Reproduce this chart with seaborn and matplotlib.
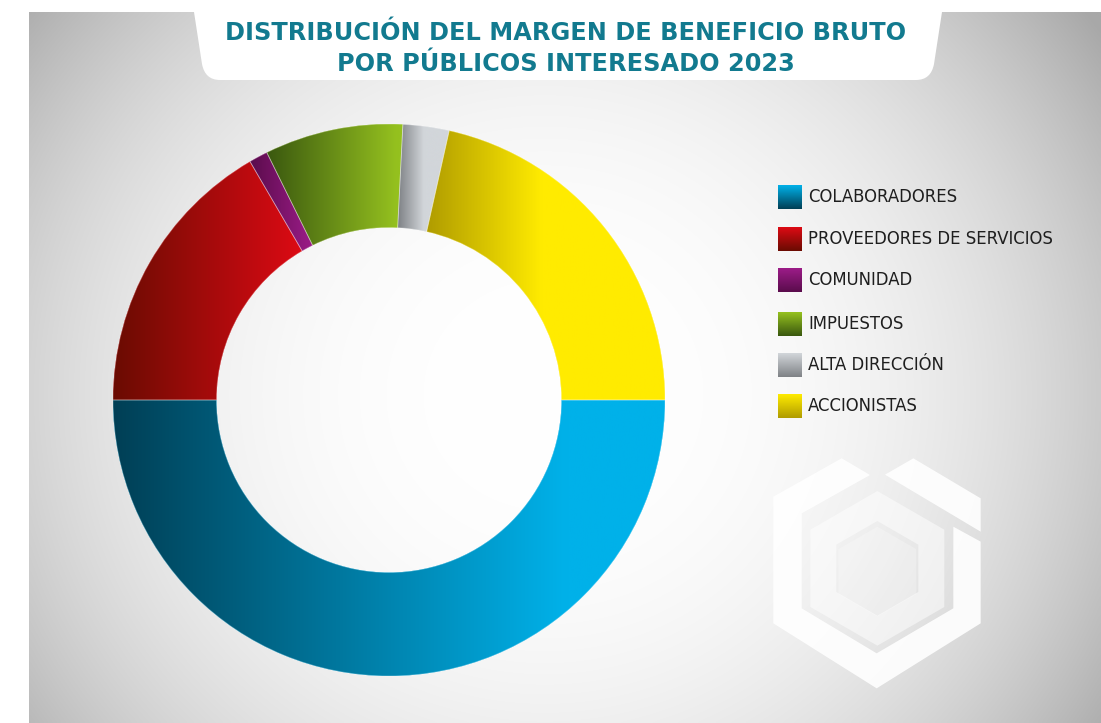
import numpy as np
import pandas as pd
import matplotlib
matplotlib.use("Agg")
import matplotlib.pyplot as plt
import seaborn as sns
from matplotlib.colors import LinearSegmentedColormap
from matplotlib.patches import Polygon, PathPatch, Wedge
from matplotlib.path import Path

# ---------------- data ----------------
categories = ["COLABORADORES", "PROVEEDORES DE SERVICIOS", "COMUNIDAD",
              "IMPUESTOS", "ALTA DIRECCIÓN", "ACCIONISTAS"]
shares = [50.0, 16.6, 1.1, 8.1, 2.7, 21.5]
bright_colors = ["#00b1e9", "#dd0a14", "#9c1c88", "#95c11f", "#d2d6da", "#ffeb00"]
dark_colors = ["#003f55", "#6a0c02", "#5a0c4c", "#3a580f", "#7f8286", "#b09c00"]
grad_reach = [0.82, 1.0, 1.0, 0.95, 0.5, 0.48]
title_lines = ["DISTRIBUCIÓN DEL MARGEN DE BENEFICIO BRUTO",
               "POR PÚBLICOS INTERESADO 2023"]

df = pd.DataFrame({"category": categories, "share": shares,
                   "bright": bright_colors, "dark": dark_colors, "reach": grad_reach})

sns.set_theme(style="white")
plt.rcParams["font.family"] = ["DejaVu Sans"]

W, H = 1101, 723
fig = plt.figure(figsize=(W / 100, H / 100), dpi=100)
ax = fig.add_axes([0, 0, 1, 1])


def Y(y):
    return H - y

# ---------------- background panel ----------------
px0, py0 = 29, 12
xs = np.linspace(px0, W, 400)
ys = np.linspace(py0, H, 300)
XX, YY = np.meshgrid(xs, ys)
r = np.sqrt((XX - 545) ** 2 + ((YY - 395) / 0.95) ** 2)
val = 255 - 78 * np.clip(r / 650, 0, 1.2) ** 2.6
val = np.clip(val, 168, 255) / 255.0
bg = np.dstack([val, val, val])
ax.imshow(bg, extent=(px0, W, Y(H), Y(py0)), origin="upper", aspect="auto",
          interpolation="bicubic", zorder=0)

# ---------------- watermark ----------------
def zc(pts):
    return [(760 + x / 3.0, Y(450 + y / 3.0)) for x, y in pts]

wm_outer = [(245, 25), (40, 140), (40, 520), (350, 715), (662, 520), (662, 275),
            (580, 230), (580, 475), (350, 610), (125, 475), (125, 190), (330, 75)]
wm_topright = [(460, 25), (662, 145), (662, 245), (375, 74)]
# middle ring (outer hex minus inner hex)
mcx, mcy = 352, 355
def hexpts(R, cx, cy):
    return [(cx + R * np.cos(np.radians(a)), cy - R * np.sin(np.radians(a)))
            for a in (90, 150, 210, 270, 330, 30)]
ring_out = hexpts(232, mcx, mcy)
ring_in = hexpts(142, mcx, mcy)
ring_path = Path(zc(ring_out + [ring_out[0]]) + zc(ring_in[::-1] + [ring_in[-1]]),
                 [Path.MOVETO] + [Path.LINETO] * 5 + [Path.CLOSEPOLY] +
                 [Path.MOVETO] + [Path.LINETO] * 5 + [Path.CLOSEPOLY])
ax.add_patch(Polygon(zc(wm_outer), closed=True, facecolor="white", edgecolor="none",
                     alpha=0.9, zorder=1))
ax.add_patch(Polygon(zc(wm_topright), closed=True, facecolor="white", edgecolor="none",
                     alpha=0.9, zorder=1))
ax.add_patch(PathPatch(ring_path, facecolor="white", edgecolor="none", alpha=0.5, zorder=1))
ax.add_patch(Polygon(zc(hexpts(135, mcx, mcy + 10)), closed=True, facecolor="white",
                     edgecolor="none", alpha=0.25, zorder=1))

# ---------------- title box ----------------
verts = [(193, 0), (194, 12), (202, 64), (205, 80), (220, 80), (916, 80),
         (931, 80), (934, 64), (942, 12), (943, 0), (193, 0)]
codes = [Path.MOVETO, Path.LINETO, Path.LINETO, Path.CURVE3, Path.CURVE3,
         Path.LINETO, Path.CURVE3, Path.CURVE3, Path.LINETO, Path.LINETO, Path.CLOSEPOLY]
verts = [(x, Y(y)) for x, y in verts]
ax.add_patch(PathPatch(Path(verts, codes), facecolor="white", edgecolor="none", zorder=2))
for i, line in enumerate(title_lines):
    ax.text(566, Y(40 + 31 * i), line, ha="center", va="baseline",
            fontsize=17.3, fontweight="bold", color="#127a8f", zorder=3)

# ---------------- donut ----------------
cx, cy, R = 389, 400, 276
wedges, _ = ax.pie(df["share"], colors=df["bright"], startangle=0, counterclock=False,
                   radius=R, center=(cx, Y(cy)), frame=True,
                   wedgeprops=dict(width=R * 0.375, edgecolor="none", linewidth=0))

for w, (_, row) in zip(wedges, df.iterrows()):
    w.set_zorder(4)
    ext = w.get_path().get_extents()
    cmap = LinearSegmentedColormap.from_list(
        "g", [(0, row["dark"]), (row["reach"], row["bright"]), (1, row["bright"])])
    grad = np.linspace(0, 1, 256)[None, :]
    im = ax.imshow(grad, extent=(ext.x0, ext.x1, ext.y0, ext.y1), cmap=cmap,
                   aspect="auto", interpolation="bicubic", zorder=5, origin="lower")
    im.set_clip_path(w)

for w in wedges:
    ax.add_patch(Wedge(w.center, w.r, w.theta1, w.theta2, width=w.width,
                       facecolor="none", edgecolor=(1, 1, 1, 0.35),
                       linewidth=0.6, zorder=6))

# ---------------- legend ----------------
row_y = [197, 239, 280, 324, 365, 406]
sq = 24
for yc, (_, row) in zip(row_y, df.iterrows()):
    cmap = LinearSegmentedColormap.from_list("l", [(0, row["dark"]), (1, row["bright"])])
    grad = np.linspace(0, 1, 64)[:, None]
    ax.imshow(grad, extent=(778, 778 + sq, Y(yc + sq / 2), Y(yc - sq / 2)), cmap=cmap,
              aspect="auto", origin="lower", interpolation="bicubic", zorder=5)
    ax.text(808, Y(yc), row["category"], ha="left", va="center", fontsize=11.9,
            color="#1e1e1e", zorder=6)

ax.set_xlim(0, W)
ax.set_ylim(0, H)
ax.set_aspect("auto")
ax.axis("off")
fig.savefig("out.png", dpi=100, facecolor="white")
